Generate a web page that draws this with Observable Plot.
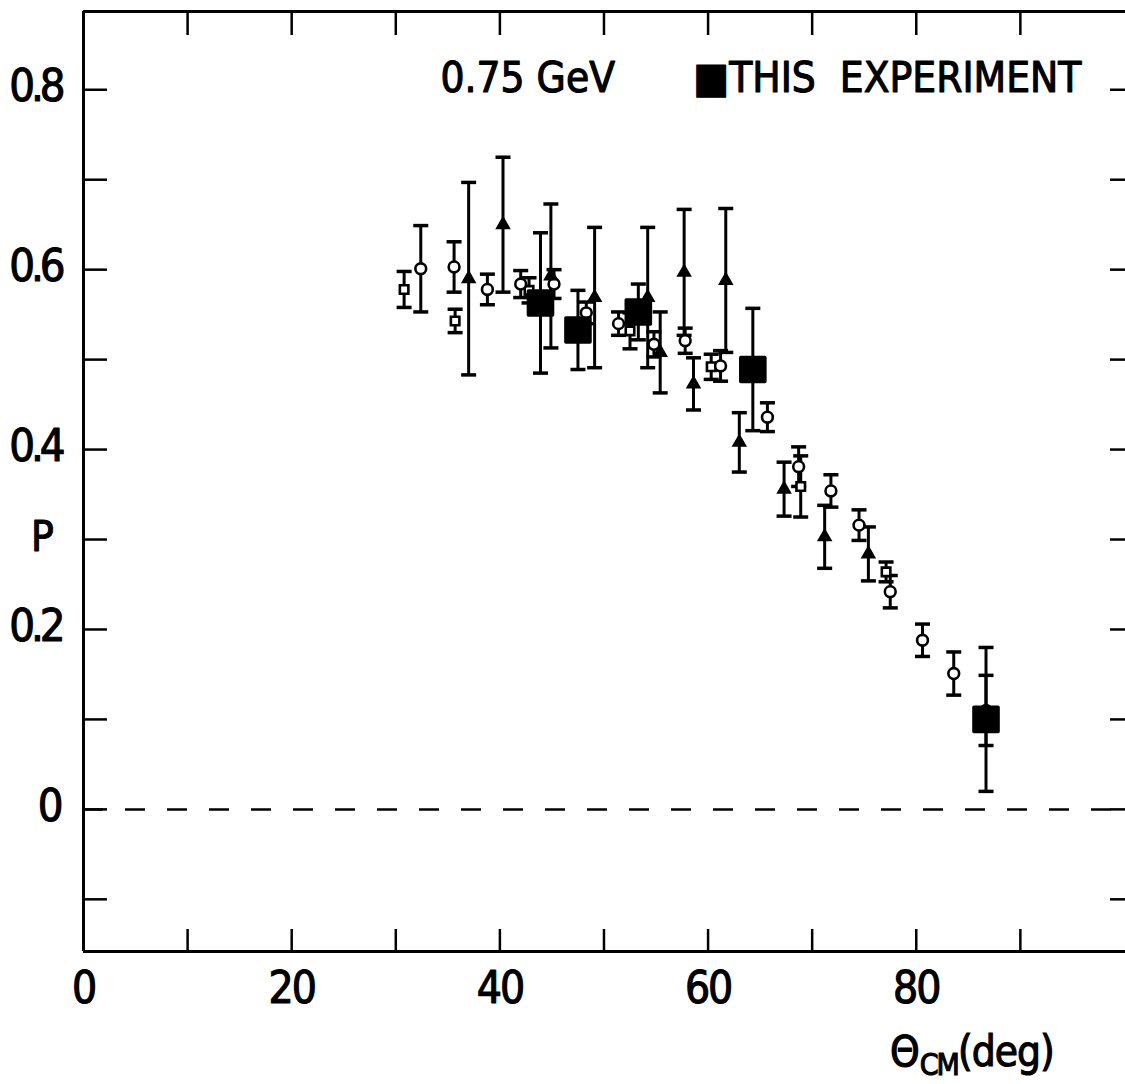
<!DOCTYPE html>
<html><head><meta charset="utf-8">
<script src="https://cdn.jsdelivr.net/npm/d3@7"></script>
<script src="https://cdn.jsdelivr.net/npm/@observablehq/plot@0.6"></script>
<style>html,body{margin:0;padding:0;background:#fff;overflow:hidden}</style>
</head><body><div id="chart"></div>
<script>
// ---- data ----
const xTicks = [10, 20, 30, 40, 50, 60, 70, 80, 90];
const yTicks = [-0.1, 0, 0.1, 0.2, 0.3, 0.4, 0.5, 0.6, 0.7, 0.8];
const xLabels = [0, 20, 40, 60, 80];
const yLabels = [0, 0.2, 0.4, 0.6, 0.8];

// open squares
const sqTheta = [30.8, 35.7, 42.8, 52.5, 60.3, 68.9, 77.1];
const sqP     = [0.578, 0.543, 0.577, 0.532, 0.492, 0.359, 0.264];
const sqErr   = [0.020, 0.013, 0.014, 0.020, 0.014, 0.034, 0.011];

// open circles
const ciTheta = [32.4, 35.6, 38.8, 42.0, 45.2, 48.3, 51.4, 54.8, 57.8, 61.2, 65.7, 68.7, 71.8, 74.5, 77.5, 80.6, 83.6, 86.7];
const ciP     = [0.601, 0.603, 0.578, 0.584, 0.584, 0.552, 0.540, 0.517, 0.521, 0.493, 0.436, 0.381, 0.354, 0.316, 0.242, 0.188, 0.151, 0.110];
const ciErr   = [0.048, 0.028, 0.017, 0.015, 0.016, 0.012, 0.013, 0.014, 0.014, 0.017, 0.016, 0.022, 0.018, 0.017, 0.018, 0.018, 0.024, 0.039];

// filled triangles
const trTheta = [37.0, 40.3, 44.9, 49.1, 54.2, 55.4, 57.7, 58.6, 61.7, 63.0, 67.3, 71.2, 75.4];
const trP     = [0.590, 0.650, 0.593, 0.569, 0.569, 0.508, 0.597, 0.473, 0.588, 0.408, 0.356, 0.303, 0.284];
const trErr   = [0.107, 0.075, 0.080, 0.078, 0.078, 0.045, 0.070, 0.029, 0.080, 0.033, 0.030, 0.035, 0.030];

// filled squares: this experiment
const exTheta = [43.9, 47.5, 53.3, 64.3, 86.7];
const exP     = [0.563, 0.533, 0.553, 0.489, 0.100];
const exErr   = [0.078, 0.044, 0.031, 0.068, 0.080];

const table = (t, p, e) => t.map((x, i) => ({theta: x, P: p[i], err: e[i]}));
const sq = table(sqTheta, sqP, sqErr);
const ci = table(ciTheta, ciP, ciErr);
const tr = table(trTheta, trP, trErr);
const ex = table(exTheta, exP, exErr);
const all = [...sq, ...ci, ...tr, ...ex];

const FONT = "'Liberation Sans Narrow', 'DejaVu Sans Condensed', 'Roboto Condensed', 'Liberation Sans', sans-serif";
const W = 1125, H = 1084, mL = 83, mR = 0, mT = 11, mB = 133;
const plotW = W - mL - mR, plotH = H - mT - mB;
const xDomain = [0, 100.1], yDomain = [-0.158, 0.887];

const capSymbol = {draw(ctx, size) { const w = Math.sqrt(size / Math.PI); ctx.moveTo(-w, 0); ctx.lineTo(w, 0); }};

const bars = (data) => [
  Plot.ruleX(data, {x: "theta", y1: d => d.P - d.err, y2: d => d.P + d.err, stroke: "black", strokeWidth: 3}),
  Plot.dot(data, {x: "theta", y: d => d.P + d.err, symbol: capSymbol, r: 7.5, fill: "none", stroke: "black", strokeWidth: 3.5}),
  Plot.dot(data, {x: "theta", y: d => d.P - d.err, symbol: capSymbol, r: 7.5, fill: "none", stroke: "black", strokeWidth: 3.5})
];

const txt = {fontFamily: FONT, fill: "black", stroke: "black", strokeWidth: 1.1, lineAnchor: "middle"};

const chart = Plot.plot({
  width: W, height: H,
  marginLeft: mL, marginRight: mR, marginTop: mT, marginBottom: mB,
  x: {domain: xDomain, axis: null},
  y: {domain: yDomain, axis: null},
  style: {background: "white", fontFamily: FONT, color: "black"},
  marks: [
    // frame (left, top, bottom)
    Plot.ruleX([xDomain[0]], {stroke: "black", strokeWidth: 3}),
    Plot.ruleY([yDomain[0], yDomain[1]], {stroke: "black", strokeWidth: 3}),
    // inward ticks
    Plot.tickX(xTicks, {x: d => d, insetBottom: plotH - 24, stroke: "black", strokeWidth: 2.5}),
    Plot.tickX(xTicks, {x: d => d, insetTop: plotH - 22, stroke: "black", strokeWidth: 2.5}),
    Plot.tickY(yTicks, {y: d => d, insetRight: plotW - 24, stroke: "black", strokeWidth: 2.5}),
    Plot.tickY(yTicks, {y: d => d, insetLeft: plotW - 15, stroke: "black", strokeWidth: 2.5}),
    // zero line
    Plot.ruleY([0], {stroke: "black", strokeWidth: 2.5, strokeDasharray: "20,22"}),
    // tick labels
    Plot.text(xLabels, {...txt, x: d => d, frameAnchor: "bottom", dy: 37, textAnchor: "middle", text: d => String(d), fontSize: 44}),
    Plot.text(yLabels, {...txt, y: d => d, frameAnchor: "left", dx: -22, dy: -3, textAnchor: "end", text: d => d === 0 ? "0" : d.toFixed(1), fontSize: 45}),
    Plot.text(["P"], {...txt, frameAnchor: "left", dx: -41, dy: 56, textAnchor: "middle", text: d => d, fontSize: 42}),
    Plot.text(["0.75 GeV"], {...txt, frameAnchor: "top-left", dx: 357, dy: 67, textAnchor: "start", text: d => d, fontSize: 42}),
    Plot.text(["\u25A0THIS  EXPERIMENT"], {...txt, frameAnchor: "top-left", dx: 610, dy: 67, textAnchor: "start", text: d => d, fontSize: 42}),
    // error bars
    ...bars(all),
    // markers
    Plot.dot(sq, {x: "theta", y: "P", symbol: "square", r: 4.8, fill: "white", stroke: "black", strokeWidth: 2.6}),
    Plot.dot(ci, {x: "theta", y: "P", symbol: "circle", r: 5.4, fill: "white", stroke: "black", strokeWidth: 2.6}),
    Plot.dot(tr, {x: "theta", y: "P", symbol: "triangle", r: 4.8, fill: "black", stroke: "black", strokeWidth: 1.5}),
    Plot.dot(ex, {x: "theta", y: "P", symbol: "square", r: 13.6, fill: "black", stroke: "black", strokeWidth: 3.5, strokeLinejoin: "round"})
  ]
});

const svg = d3.select(chart);
// tighten numeric labels
svg.selectAll("text").filter(function() { return /^[0-9]+$/.test(this.textContent); })
  .attr("letter-spacing", "-2px");
svg.selectAll("text").filter(function() { return /^[0-9]\.[0-9]$/.test(this.textContent); })
  .attr("letter-spacing", "-4px");

// axis title with subscript
const t = svg.append("text").attr("x", 890).attr("y", 1066).attr("text-anchor", "start")
  .attr("font-family", FONT).attr("font-size", 42).attr("fill", "black")
  .attr("stroke", "black").attr("stroke-width", 1.1);
t.append("tspan").text("\u0398");
t.append("tspan").attr("font-size", 30).attr("letter-spacing", "-2px").attr("dy", 9).text("CM");
t.append("tspan").attr("dy", -9).attr("letter-spacing", "-1px").text("(deg)");

document.getElementById("chart").appendChild(chart);
</script></body></html>
